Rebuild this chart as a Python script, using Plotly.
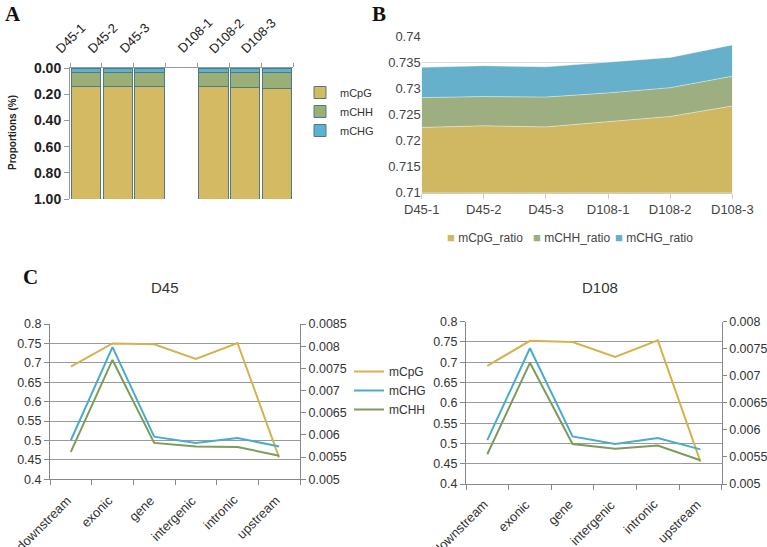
import plotly.graph_objects as go

W, H = 767, 547
def px(x): return x / W
def py(y): return 1 - y / H

# ---------------- data ----------------
# Panel A: proportions (stacked, per sample)
samples = ["D45-1", "D45-2", "D45-3", "D108-1", "D108-2", "D108-3"]
a_mCHG = [0.031, 0.031, 0.031, 0.031, 0.031, 0.031]
a_mCHH = [0.113, 0.112, 0.113, 0.113, 0.115, 0.123]
a_mCpG = [0.856, 0.857, 0.856, 0.856, 0.854, 0.846]

# Panel B: stacked area ratios
b_names = ["mCpG_ratio", "mCHH_ratio", "mCHG_ratio"]
b_mCpG = [0.7225, 0.7228, 0.7226, 0.7236, 0.7246, 0.7266]
b_mCHH = [0.0057, 0.0056, 0.0057, 0.0055, 0.0055, 0.0057]
b_mCHG = [0.0058, 0.0059, 0.0058, 0.0059, 0.0058, 0.0060]

# Panel C: genomic regions
regions = ["downstream", "exonic", "gene", "intergenic", "intronic", "upstream"]
d45_mCpG = [0.690, 0.750, 0.748, 0.710, 0.751, 0.456]
d45_mCHG = [0.00588, 0.00798, 0.00596, 0.00582, 0.00593, 0.00574]
d45_mCHH = [0.00562, 0.00769, 0.00582, 0.00574, 0.00573, 0.00553]
d108_mCpG = [0.691, 0.753, 0.750, 0.713, 0.754, 0.455]
d108_mCHG = [0.00581, 0.00751, 0.00588, 0.00574, 0.00585, 0.00564]
d108_mCHH = [0.00555, 0.00724, 0.00574, 0.00565, 0.00571, 0.00544]

# ---------------- colours ----------------
GOLD_A, GREEN_A, BLUE_A = "#D3BA63", "#9AAE78", "#5DB3CF"
OUTLINE = "#4F7C84"
GOLD_B, GREEN_B, BLUE_B = "#D0B863", "#9DAF80", "#66B0CB"
GOLD_C, BLUE_C, GREEN_C = "#D6B24C", "#4AABCB", "#7C9B5C"
FONT = "Arial"

fig = go.Figure()

# ---------------- Panel A ----------------
spacer = " "
cats_A = samples[:3] + [spacer] + samples[3:]
def with_gap(v):
    return list(v[:3]) + [None] + list(v[3:])

for name, vals, col in [("mCHG", a_mCHG, BLUE_A), ("mCHH", a_mCHH, GREEN_A), ("mCpG", a_mCpG, GOLD_A)]:
    fig.add_trace(go.Bar(x=cats_A, y=with_gap(vals), name=name, xaxis="x", yaxis="y",
                         marker=dict(color=col, line=dict(color=OUTLINE, width=1)),
                         legend="legend", showlegend=True))

# ---------------- Panel B ----------------
b_cols = [GOLD_B, GREEN_B, BLUE_B]
for name, vals, col in zip(b_names, [b_mCpG, b_mCHH, b_mCHG], b_cols):
    fig.add_trace(go.Scatter(x=samples, y=vals, name=name, xaxis="x2", yaxis="y2",
                             stackgroup="b", mode="lines",
                             line=dict(width=0.8, color="rgba(255,255,255,0.55)"),
                             fillcolor=col, showlegend=False))

# ---------------- Panel C ----------------
def add_c(xa, yl, yr, cpg, chg, chh, show):
    fig.add_trace(go.Scatter(x=regions, y=cpg, name="mCpG", xaxis=xa, yaxis=yl, mode="lines",
                             line=dict(color=GOLD_C, width=2), legend="legend3", showlegend=show))
    fig.add_trace(go.Scatter(x=regions, y=chg, name="mCHG", xaxis=xa, yaxis=yr, mode="lines",
                             line=dict(color=BLUE_C, width=2), legend="legend3", showlegend=show))
    fig.add_trace(go.Scatter(x=regions, y=chh, name="mCHH", xaxis=xa, yaxis=yr, mode="lines",
                             line=dict(color=GREEN_C, width=2), legend="legend3", showlegend=show))

add_c("x3", "y3", "y4", d45_mCpG, d45_mCHG, d45_mCHH, True)
add_c("x4", "y5", "y6", d108_mCpG, d108_mCHG, d108_mCHH, False)

# ---------------- Layout ----------------
tickC = dict(family=FONT, size=12.5, color="#333")
layout = dict(
    width=W, height=H, margin=dict(l=0, r=0, t=0, b=0, autoexpand=False),
    paper_bgcolor="white", plot_bgcolor="white",
    barmode="stack", bargap=0.08,
    font=dict(family=FONT),
    # A
    xaxis=dict(domain=[px(70), px(293)], anchor="y", side="top", type="category",
               categoryorder="array", categoryarray=cats_A, range=[-0.5, len(cats_A) - 0.5],
               showticklabels=False,
               tickson="boundaries", ticks="outside", ticklen=4, tickcolor="#999",
               showline=True, linecolor="#999", linewidth=1, showgrid=False, automargin=False),
    yaxis=dict(domain=[py(199), py(68)], anchor="x", range=[1, 0],
               tickvals=[0, 0.2, 0.4, 0.6, 0.8, 1.0],
               ticktext=["0.00", "0.20", "0.40", "0.60", "0.80", "1.00"],
               tickfont=dict(family=FONT, size=14, color="#222", weight="bold"),
               ticks="outside", ticklen=5, tickcolor="#999", automargin=False,
               showline=True, linecolor="#999", showgrid=False, zeroline=False),
    # B
    xaxis2=dict(domain=[px(421.7), px(732.3)], anchor="y2", type="category", range=[0, 5],
                showline=True, linecolor="#ccc", ticks="outside", ticklen=5, tickcolor="#ccc",
                tickfont=dict(family=FONT, size=13, color="#444"), showgrid=False, automargin=False),
    yaxis2=dict(domain=[py(192.7), py(36)], anchor="x2", range=[0.71, 0.74], dtick=0.005,
                tick0=0.71, gridcolor="#ddd", showline=False, zeroline=False, automargin=False,
                tickfont=dict(family=FONT, size=13, color="#444")),
    # C left
    xaxis3=dict(domain=[px(50), px(300)], anchor="y3", type="category", tickson="boundaries",
                categoryorder="array", categoryarray=regions, range=[-0.5, len(regions) - 0.5],
                ticks="outside", ticklen=5, tickcolor="#888", showticklabels=False,
                automargin=False, showline=True, linecolor="#888", showgrid=False),
    yaxis3=dict(domain=[py(479.3), py(324)], anchor="x3", range=[0.4, 0.8], dtick=0.05, tick0=0.4,
                gridcolor="#9a9a9a", showline=True, linecolor="#888", ticks="outside", ticklen=5,
                tickcolor="#888", tickfont=tickC, zeroline=False, automargin=False),
    yaxis4=dict(overlaying="y3", anchor="x3", side="right", range=[0.005, 0.0085], dtick=0.0005,
                tick0=0.005, exponentformat="none", showgrid=False, showline=True, linecolor="#888",
                ticks="outside", ticklen=5, tickcolor="#888", tickfont=tickC, zeroline=False,
                automargin=False),
    # C right
    xaxis4=dict(domain=[px(466), px(721.7)], anchor="y5", type="category", tickson="boundaries",
                categoryorder="array", categoryarray=regions, range=[-0.5, len(regions) - 0.5],
                ticks="outside", ticklen=5, tickcolor="#888", showticklabels=False,
                automargin=False, showline=True, linecolor="#888", showgrid=False),
    yaxis5=dict(domain=[py(484), py(321.7)], anchor="x4", range=[0.4, 0.8], dtick=0.05, tick0=0.4,
                gridcolor="#9a9a9a", showline=True, linecolor="#888", ticks="outside", ticklen=5,
                tickcolor="#888", tickfont=tickC, zeroline=False, automargin=False),
    yaxis6=dict(overlaying="y5", anchor="x4", side="right", range=[0.005, 0.008], dtick=0.0005,
                tick0=0.005, exponentformat="none", showgrid=False, showline=True, linecolor="#888",
                ticks="outside", ticklen=4, tickcolor="#888", tickfont=tickC, zeroline=False,
                automargin=False),
    # legends
    legend=dict(x=px(300), y=py(78), xanchor="left", yanchor="top", traceorder="reversed",
                font=dict(family=FONT, size=11, color="#333"), itemwidth=30,
                bgcolor="rgba(0,0,0,0)", tracegroupgap=0),
    legend3=dict(x=px(349), y=py(357), xanchor="left", yanchor="top",
                 font=dict(family=FONT, size=12, color="#333"), itemwidth=30,
                 bgcolor="rgba(0,0,0,0)"),
)
fig.update_layout(**layout)

# annotations: panel letters, titles, rotated category labels, key for B
ann = []
for letter, x, y in [("A", 3, 0), ("B", 370, 0), ("C", 21, 263)]:
    ann.append(dict(text=f"<b>{letter}</b>", x=px(x), y=py(y), xref="paper", yref="paper",
                    xanchor="left", yanchor="top", showarrow=False,
                    font=dict(family="Liberation Serif", size=21, color="#111")))
for t, x in [("D45", 165), ("D108", 600)]:
    ann.append(dict(text=t, x=px(x), y=py(287), xref="paper", yref="paper",
                    xanchor="center", yanchor="middle", showarrow=False,
                    font=dict(family=FONT, size=15, color="#333")))
ann.append(dict(text="<b>Proportions (%)</b>", x=px(12), y=py(133), xref="paper", yref="paper",
                textangle=-90, xanchor="center", yanchor="middle", showarrow=False,
                font=dict(family=FONT, size=10, color="#222")))
for s in samples:
    ann.append(dict(text=s, x=s, xref="x", y=py(59), yref="paper", textangle=-45,
                    xanchor="right", yanchor="bottom", xshift=5, showarrow=False,
                    font=dict(family=FONT, size=13, color="#222")))
# rotated region labels for panel C
for xref, ytop in [("x3", 490), ("x4", 494)]:
    for r in regions:
        ann.append(dict(text=r, x=r, xref=xref, y=py(ytop), yref="paper", textangle=-45,
                        xanchor="right", yanchor="top", xshift=6, showarrow=False,
                        font=dict(family=FONT, size=13, color="#333")))
# compact key for panel B
for name, col, x in zip(b_names, b_cols, [445, 531, 613]):
    ann.append(dict(text=f"<span style='color:{col};font-size:13px'>■</span> {name}",
                    x=px(x), y=py(237), xref="paper", yref="paper",
                    xanchor="left", yanchor="middle", showarrow=False,
                    font=dict(family=FONT, size=12, color="#444")))
fig.update_layout(annotations=ann)

fig.write_html("out.html", config={"displayModeBar": False},
               post_script="document.body.style.margin='0px';document.body.style.overflow='hidden';")
